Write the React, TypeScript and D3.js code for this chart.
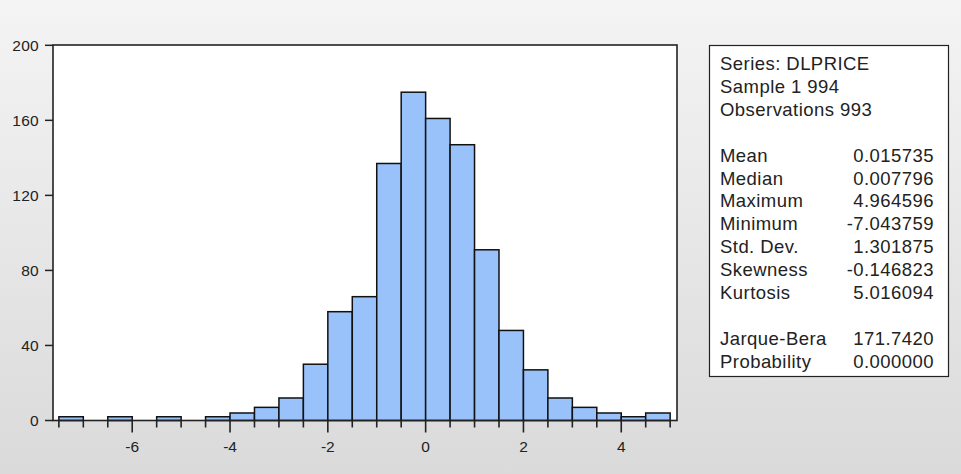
import React from "react";
import * as d3 from "d3";

const binStarts: number[] = [-7.5, -7.0, -6.5, -6.0, -5.5, -5.0, -4.5, -4.0, -3.5, -3.0, -2.5, -2.0, -1.5, -1.0, -0.5, 0.0, 0.5, 1.0, 1.5, 2.0, 2.5, 3.0, 3.5, 4.0, 4.5];
const counts: number[] = [2, 0, 2, 0, 2, 0, 2, 4, 7, 12, 30, 58, 66, 137, 175, 161, 147, 91, 48, 27, 12, 7, 4, 2, 4];
const binWidth = 0.5;
const xMajorTicks: number[] = [-6, -4, -2, 0, 2, 4];
const yTicks: number[] = [0, 40, 80, 120, 160, 200];

const statLabels: string[] = ["Mean", "Median", "Maximum", "Minimum", "Std. Dev.", "Skewness", "Kurtosis"];
const statValues: string[] = ["0.015735", "0.007796", "4.964596", "-7.043759", "1.301875", "-0.146823", "5.016094"];
const testLabels: string[] = ["Jarque-Bera", "Probability"];
const testValues: string[] = ["171.7420", "0.000000"];
const headerLines: string[] = ["Series: DLPRICE", "Sample 1 994", "Observations 993"];

const W = 961;
const H = 474;
const plot = { left: 53, right: 677, top: 45, bottom: 420.5 };

export default function App() {
  const x = d3.scaleLinear().domain([-7.62, 5.14]).range([plot.left, plot.right]);
  const y = d3.scaleLinear().domain([0, 200]).range([plot.bottom, 45.3]);

  const minorTicks = d3.range(-7.5, 5.01, 0.5).filter((v) => !xMajorTicks.includes(v));

  const font = "'Liberation Sans', Arial, sans-serif";
  const textColor = "#222";
  const box = { x: 709.5, y: 45.5, w: 239, h: 331 };
  const rowY = (i: number) => 70 + i * 22.9;
  const valX = 934;
  const labX = 720;
  const ls = 0.45;

  return (
    <svg width={W} height={H} style={{ position: "absolute", left: 0, top: 0, display: "block" }}>
      <defs>
        <linearGradient id="bg" x1="0" y1="0" x2="0" y2="1">
          <stop offset="0" stopColor="#f4f4f4" />
          <stop offset="1" stopColor="#dadada" />
        </linearGradient>
      </defs>
      <rect x={0} y={0} width={W} height={H} fill="url(#bg)" />
      <rect x={plot.left} y={plot.top} width={plot.right - plot.left} height={plot.bottom - plot.top} fill="#ffffff" />
      {binStarts.map((b, i) =>
        counts[i] > 0 ? (
          <rect
            key={i}
            x={x(b)}
            y={y(counts[i])}
            width={x(b + binWidth) - x(b)}
            height={y(0) - y(counts[i])}
            fill="#99c2fa"
            stroke="#111"
            strokeWidth={1.5}
          />
        ) : null
      )}
      <rect x={plot.left} y={plot.top} width={plot.right - plot.left} height={plot.bottom - plot.top} fill="none" stroke="#222" strokeWidth={1.6} />
      {yTicks.map((t) => (
        <g key={t}>
          <line x1={plot.left - 8} x2={plot.left} y1={y(t)} y2={y(t)} stroke="#222" strokeWidth={1.5} />
          <text x={39} y={y(t) + 5.5} textAnchor="end" fontFamily={font} fontSize={15.5} fill={textColor} letterSpacing={0.3}>
            {t}
          </text>
        </g>
      ))}
      {minorTicks.map((t) => (
        <line key={"m" + t} x1={x(t)} x2={x(t)} y1={plot.bottom} y2={plot.bottom + 7} stroke="#222" strokeWidth={1.6} />
      ))}
      {xMajorTicks.map((t) => (
        <g key={"M" + t}>
          <line x1={x(t)} x2={x(t)} y1={plot.bottom} y2={plot.bottom + 12} stroke="#222" strokeWidth={1.6} />
          <text x={x(t)} y={452} textAnchor="middle" fontFamily={font} fontSize={15.5} fill={textColor}>
            {t < 0 ? "-" + Math.abs(t) : String(t)}
          </text>
        </g>
      ))}
      <rect x={box.x} y={box.y} width={box.w} height={box.h} fill="#ffffff" stroke="#222" strokeWidth={1.2} />
      {headerLines.map((s, i) => (
        <text key={"h" + i} x={labX} y={rowY(i)} fontFamily={font} fontSize={18.5} fill={textColor} letterSpacing={ls}>
          {s}
        </text>
      ))}
      {statLabels.map((s, i) => (
        <g key={"s" + i}>
          <text x={labX} y={rowY(i + 4)} fontFamily={font} fontSize={18.5} fill={textColor} letterSpacing={ls}>
            {s}
          </text>
          <text x={valX} y={rowY(i + 4)} textAnchor="end" fontFamily={font} fontSize={18.5} fill={textColor} letterSpacing={ls}>
            {statValues[i]}
          </text>
        </g>
      ))}
      {testLabels.map((s, i) => (
        <g key={"t" + i}>
          <text x={labX} y={rowY(i + 12)} fontFamily={font} fontSize={18.5} fill={textColor} letterSpacing={ls}>
            {s}
          </text>
          <text x={valX} y={rowY(i + 12)} textAnchor="end" fontFamily={font} fontSize={18.5} fill={textColor} letterSpacing={ls}>
            {testValues[i]}
          </text>
        </g>
      ))}
    </svg>
  );
}
